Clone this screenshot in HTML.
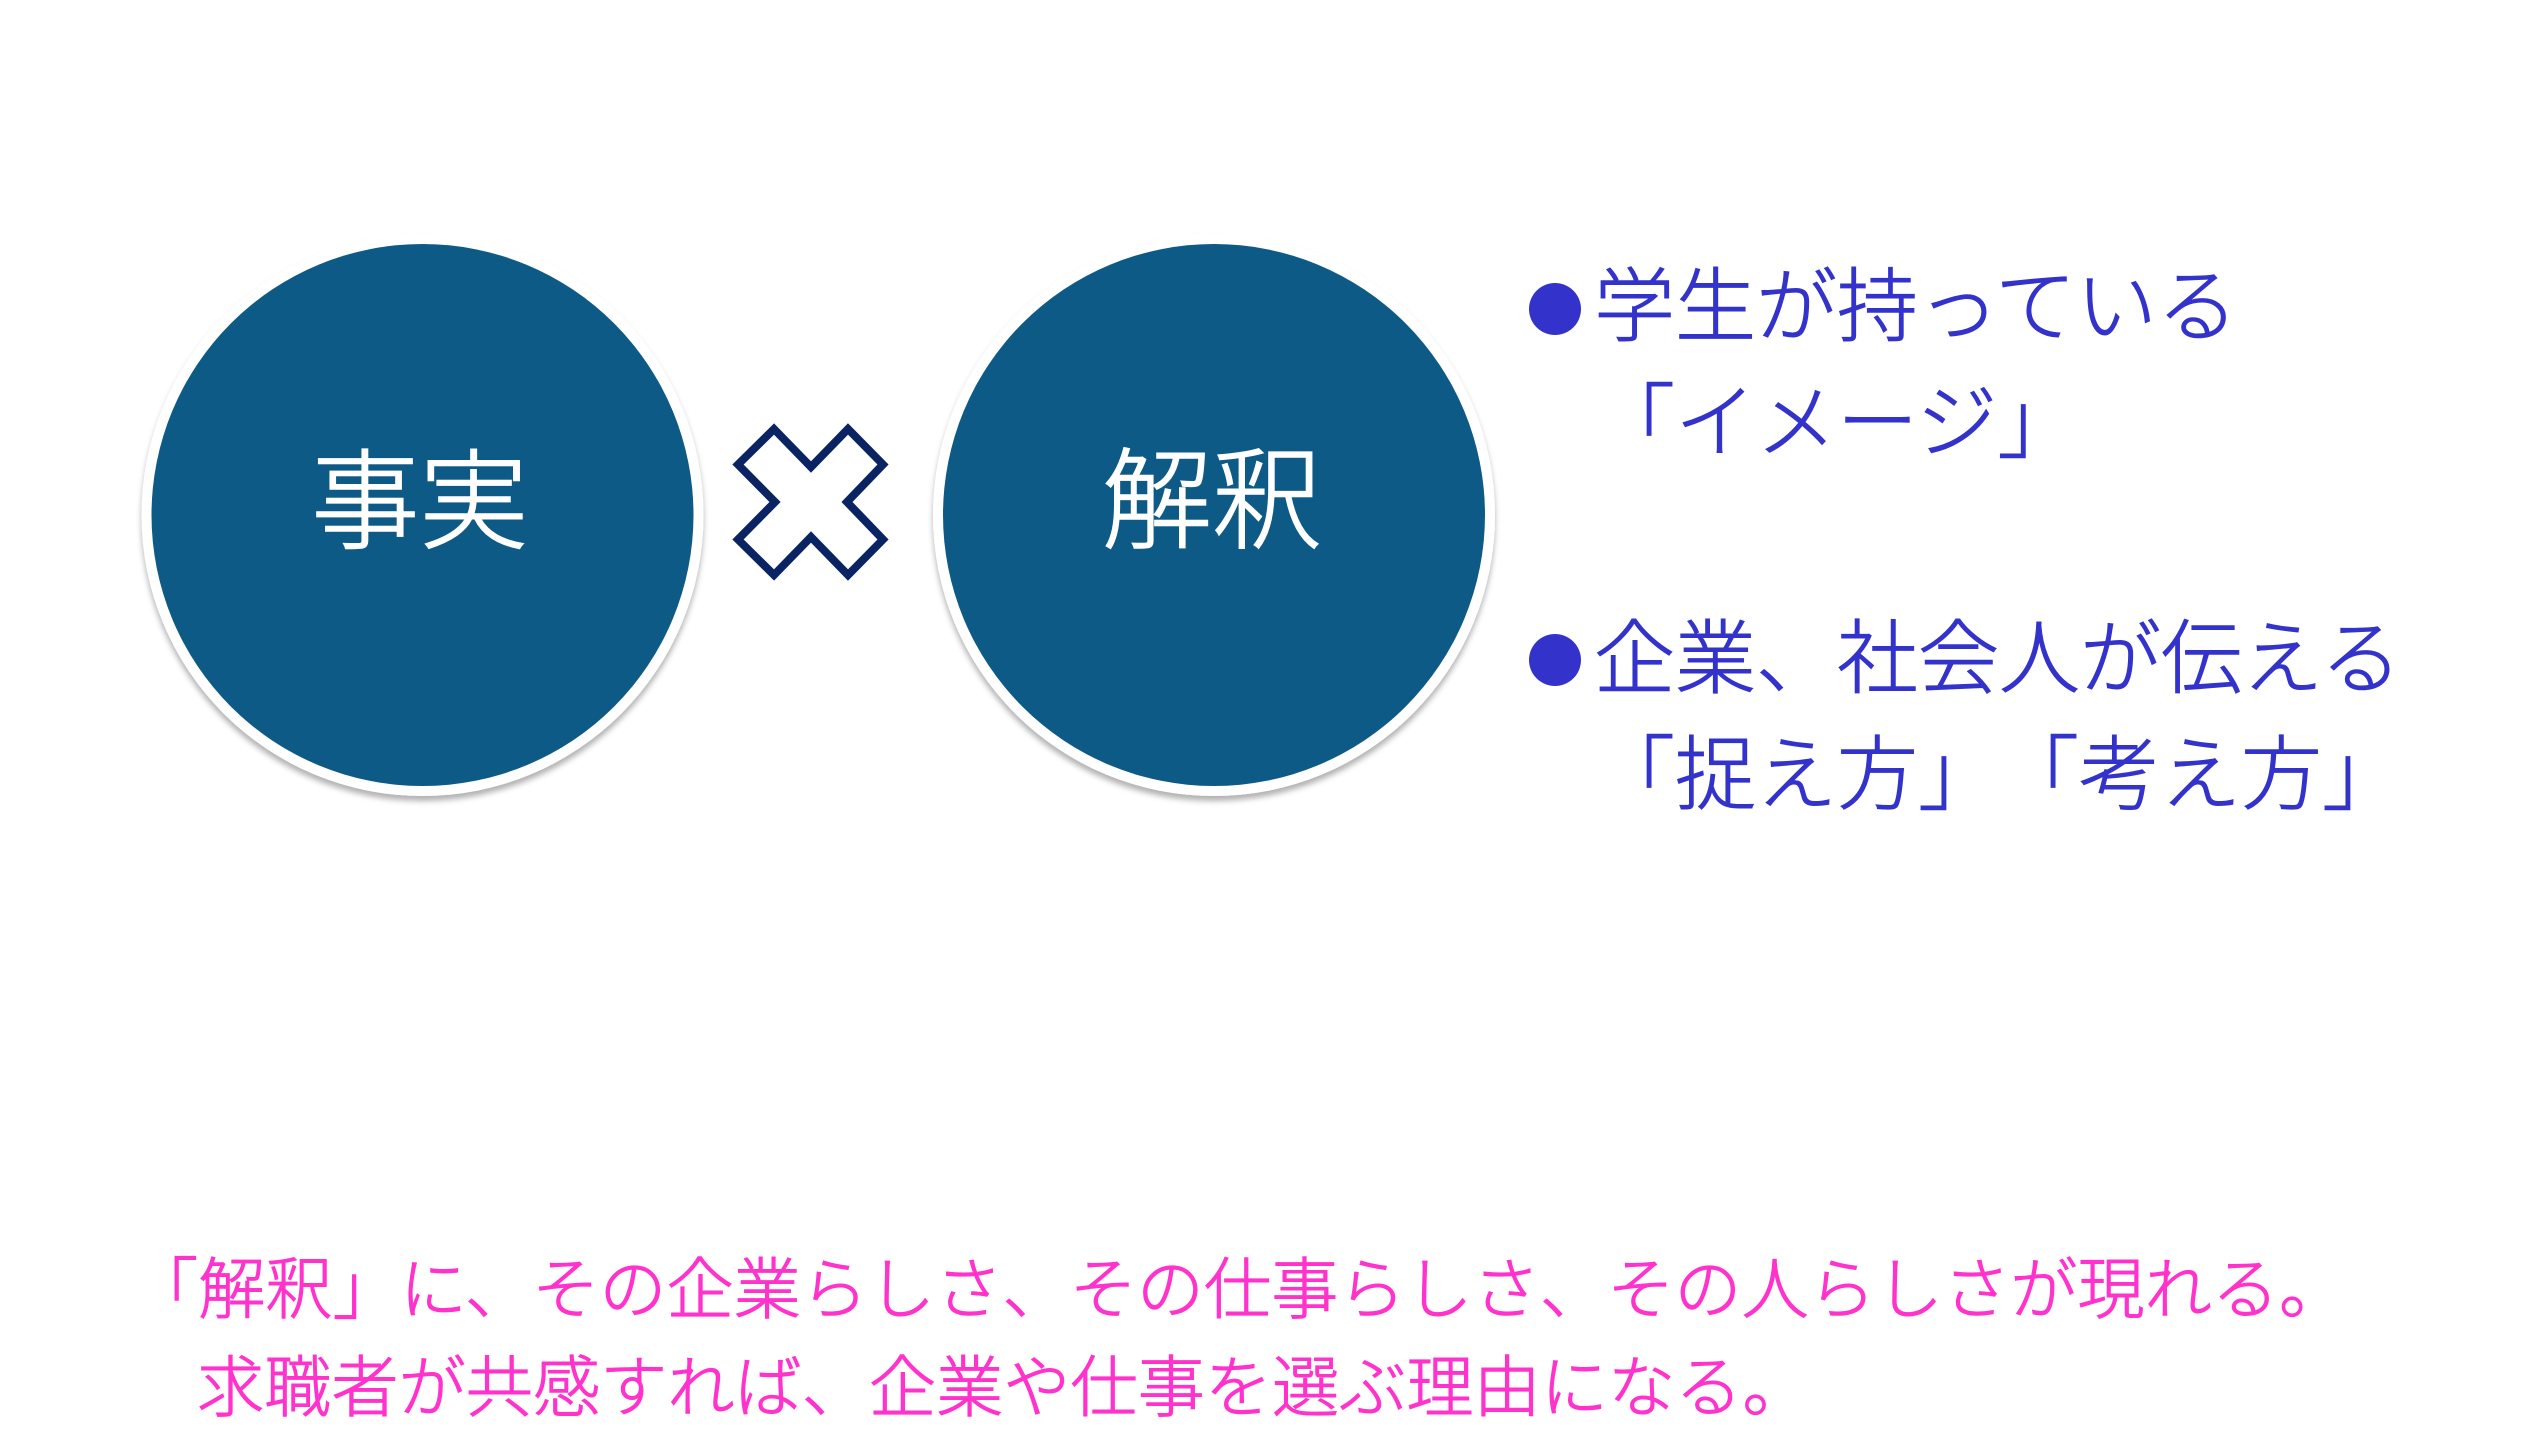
<!DOCTYPE html>
<html lang="ja">
<head>
<meta charset="utf-8">
<title>事実 × 解釈</title>
<style>
html,body{margin:0;padding:0;background:#fff;}
svg{display:block;}
text{font-family:"Liberation Sans","Noto Sans CJK JP",sans-serif;font-weight:300;}
</style>
</head>
<body>
<svg xmlns="http://www.w3.org/2000/svg" width="2539" height="1449" viewBox="0 0 2539 1449">
  <defs>
    <filter id="s" x="-10%" y="-10%" width="120%" height="120%">
      <feDropShadow dx="0" dy="5" stdDeviation="3" flood-color="#000" flood-opacity="0.3"/>
    </filter>
  </defs>
  <rect width="2539" height="1449" fill="#fff"/>

  <circle cx="422.5" cy="515" r="281" fill="#fff" filter="url(#s)"/>
  <circle cx="422.5" cy="515" r="271" fill="#0e5a86"/>
  <circle cx="1214" cy="515" r="281" fill="#fff" filter="url(#s)"/>
  <circle cx="1214" cy="515" r="271" fill="#0e5a86"/>

  <text x="311" y="540" font-size="108.5" fill="#fff" stroke="#fff" stroke-width="1.5">事実</text>
  <text x="1102" y="540" font-size="110" fill="#fff" stroke="#fff" stroke-width="1.5">解釈</text>

  <polygon points="774,429 811,467 848,429 883,464.5 847,502 883,539.5 848,575 811,537 774,575 738,539.5 775,502 738,464.5" fill="#fff" stroke="#0a2463" stroke-width="8" stroke-linejoin="miter"/>

  <circle cx="1555" cy="309" r="26" fill="#3333cc"/>
  <circle cx="1555" cy="660" r="26" fill="#3333cc"/>

  <g font-size="81" fill="#3333cc" stroke="#3333cc" stroke-width="1">
    <text x="1594" y="335">学生が持っている</text>
    <text x="1594" y="451">「イメージ」</text>
    <text x="1594" y="687">企業、社会人が伝える</text>
    <text x="1594" y="803">「捉え方」</text>
    <text x="1998" y="803">「考え方」</text>
  </g>

  <g font-size="67.2" fill="#ff33cc" stroke="#ff33cc" stroke-width="1">
    <text x="131" y="1313">「解釈」に、その企業らしさ、その仕事らしさ、その人らしさが現れる。</text>
    <text x="197" y="1411">求職者が共感すれば、企業や仕事を選ぶ理由になる。</text>
  </g>
</svg>
</body>
</html>
